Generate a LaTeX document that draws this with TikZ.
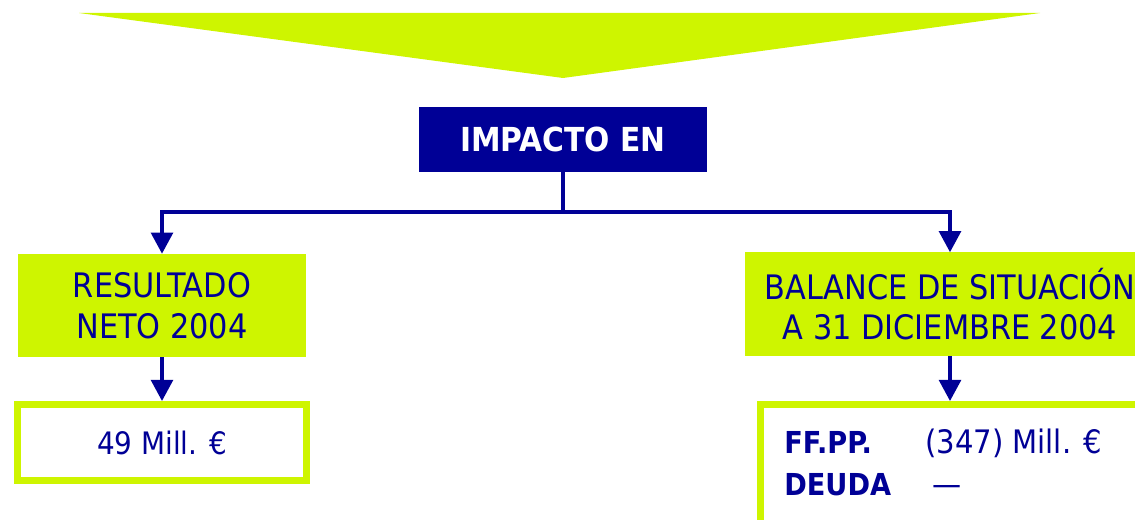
\documentclass[tikz,border=0pt]{standalone}
\usepackage{fontspec}
\setmainfont{DejaVu Sans Condensed}
\usetikzlibrary{arrows.meta}

\definecolor{verde}{RGB}{206,245,0}
\definecolor{marino}{RGB}{0,0,150}

\begin{document}
\begin{tikzpicture}[x=0.025cm, y=-0.025cm,
    caja/.style={fill=verde, text=marino, align=center, inner sep=0pt,
        font=\fontsize{24}{29}\selectfont},
    marco/.style={draw=verde, line width=5pt, fill=white, inner sep=0pt},
    flecha/.style={draw=marino, line width=2.4pt,
        -{Triangle[width=15.5pt,length=15pt]}}]
    % --- MEDIDAS ---
    \def\Wc{7.2cm}  % ancho de las cajas izquierdas
    \def\Hc{2.575cm}  % alto de las cajas verdes

    % Marco de la imagen
    \useasboundingbox (0,0) rectangle (1135,519);

    % --- FLECHA GRANDE SUPERIOR ---
    \fill[verde] (79,13) -- (1040,13) -- (563,78) -- cycle;

    % --- CAJA CENTRAL ---
    \node[fill=marino, text=white, inner sep=0pt, minimum width=\Wc,
        minimum height=1.625cm, font=\bfseries\fontsize{23.5}{28}\selectfont]
        (impacto) at (563,139.5) {IMPACTO EN};

    % --- CAJAS VERDES ---
    \node[caja, minimum width=\Wc, minimum height=\Hc]
        (resultado) at (162,305.5) {RESULTADO\\NETO 2004};
    \node[caja, minimum width=10.25cm, minimum height=\Hc]
        (balance) at (950,304) {BALANCE DE SITUACIÓN\\A 31 DICIEMBRE 2004};

    % --- CAJAS BLANCAS ---
    \node[marco, minimum width=\Wc, minimum height=1.9cm, text=marino,
        font=\fontsize{22}{26}\selectfont]
        (mill) at (162,442.5) {49 Mill. €};
    \node[marco, minimum width=10cm, minimum height=3.4cm, anchor=north west]
        (fondos) at (757,401) {};

    % Texto de la caja derecha
    \begin{scope}[every node/.style={text=marino, inner sep=0pt, anchor=base west,
        font=\fontsize{23}{27}\selectfont}]
        \node[font=\bfseries\fontsize{21.5}{25}\selectfont] (ffpp) at (784,453) {FF.PP.};
        \node (ffppval) at (925,453) {(347) Mill. €};
        \node[font=\bfseries\fontsize{21.5}{25}\selectfont] (deuda) at (784,495) {DEUDA};
        \node (deudaval) at (932,495) {—};
    \end{scope}

    % --- CONEXIONES ---
    \coordinate (bus) at (563,212);
    \draw[draw=marino, line width=2.4pt] (impacto.south) -- (bus);
    \draw[flecha] (bus) -| (resultado.north);
    \draw[flecha] (bus) -| (balance.north);
    \draw[flecha] (resultado.south) -- (mill.north);
    \draw[flecha] (balance.south) -- (balance.south |- fondos.north);

\end{tikzpicture}
\end{document}
